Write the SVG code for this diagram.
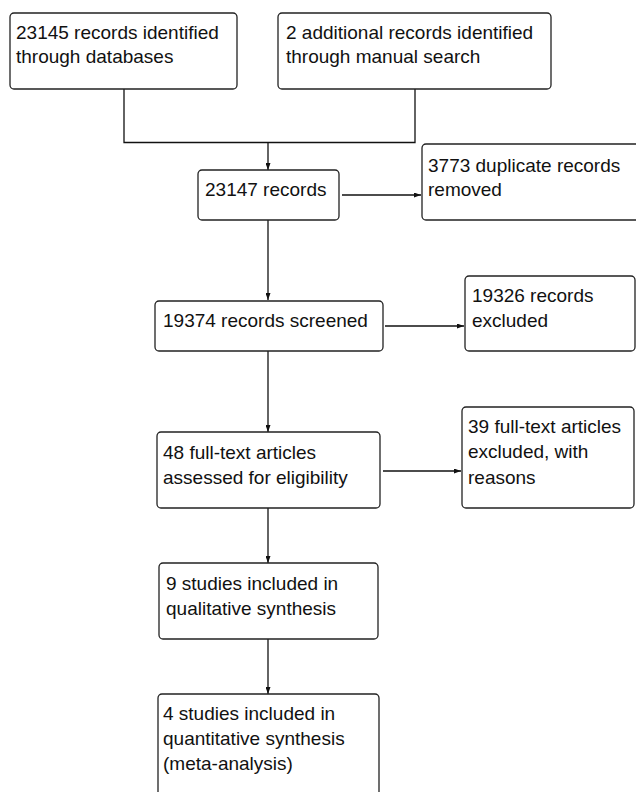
<svg xmlns="http://www.w3.org/2000/svg" width="636" height="792" viewBox="0 0 636 792">
<style>
.box{fill:#fff;stroke:#222;stroke-width:1.3}
.t{font-family:"Liberation Sans",Arial,sans-serif;font-size:19px;fill:#111}
.c{fill:none;stroke:#111;stroke-width:1.3}
</style>
<defs>
<marker id="ah" viewBox="0 0 7 5" refX="7" refY="2.5" markerWidth="7" markerHeight="5" markerUnits="userSpaceOnUse" orient="auto">
<path d="M0,0 L7,2.5 L0,5 Z" fill="#111"/>
</marker>
</defs>
<rect width="636" height="792" fill="#fff"/>
<g id="connectors">
<path class="c" d="M124,89 V142.5 H415 V89"/>
<path class="c" d="M268,142.5 V170" marker-end="url(#ah)"/>
<path class="c" d="M342,195 H421" marker-end="url(#ah)"/>
<path class="c" d="M268,220 V300" marker-end="url(#ah)"/>
<path class="c" d="M385,326 H464" marker-end="url(#ah)"/>
<path class="c" d="M268,351 V432" marker-end="url(#ah)"/>
<path class="c" d="M383,471 H461" marker-end="url(#ah)"/>
<path class="c" d="M268,508 V563" marker-end="url(#ah)"/>
<path class="c" d="M268,639 V694" marker-end="url(#ah)"/>
</g>
<g id="n1"><rect class="box" x="10" y="13" width="227" height="76" rx="4"/>
<text class="t" x="16" y="39">23145 records identified</text>
<text class="t" x="16" y="63">through databases</text></g>
<g id="n2"><rect class="box" x="278" y="13" width="273" height="76" rx="4"/>
<text class="t" x="286" y="39">2 additional records identified</text>
<text class="t" x="286" y="63">through manual search</text></g>
<g id="n3"><rect class="box" x="198" y="170" width="141" height="50" rx="4"/>
<text class="t" x="205" y="196">23147 records</text></g>
<g id="n4"><rect class="box" x="422" y="144" width="230" height="76" rx="4"/>
<text class="t" x="428" y="172">3773 duplicate records</text>
<text class="t" x="428" y="196">removed</text></g>
<g id="n5"><rect class="box" x="155" y="301" width="228" height="50" rx="4"/>
<text class="t" x="163" y="327">19374 records screened</text></g>
<g id="n6"><rect class="box" x="465" y="276" width="170" height="75" rx="4"/>
<text class="t" x="472" y="302">19326 records</text>
<text class="t" x="472" y="327">excluded</text></g>
<g id="n7"><rect class="box" x="157" y="432" width="223" height="76" rx="4"/>
<text class="t" x="163" y="459">48 full-text articles</text>
<text class="t" x="163" y="484">assessed for eligibility</text></g>
<g id="n8"><rect class="box" x="462" y="407" width="172" height="101" rx="4"/>
<text class="t" x="468" y="433">39 full-text articles</text>
<text class="t" x="468" y="458">excluded, with</text>
<text class="t" x="468" y="484">reasons</text></g>
<g id="n9"><rect class="box" x="159" y="563" width="219" height="76" rx="4"/>
<text class="t" x="166" y="590">9 studies included in</text>
<text class="t" x="166" y="615">qualitative synthesis</text></g>
<g id="n10"><rect class="box" x="158" y="694" width="221" height="120" rx="4"/>
<text class="t" x="163" y="720">4 studies included in</text>
<text class="t" x="163" y="745">quantitative synthesis</text>
<text class="t" x="163" y="770">(meta-analysis)</text></g>
</svg>
